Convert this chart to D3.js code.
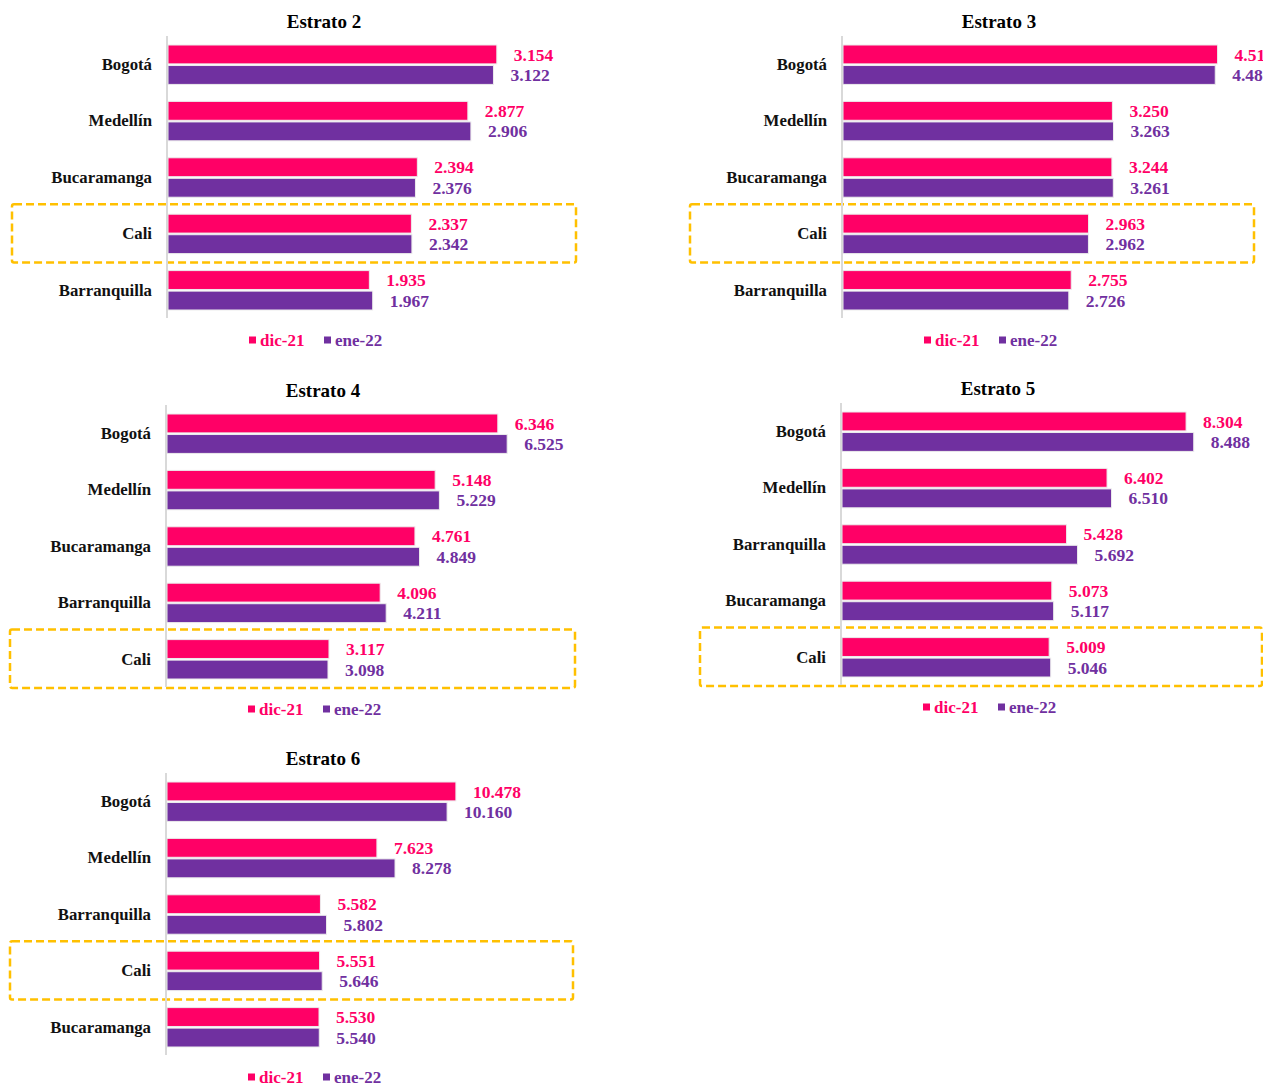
<!DOCTYPE html>
<html lang="es">
<head>
  <meta charset="UTF-8">
  <title>Estratos</title>
  <style>
    body { margin: 0; background: #fff; }
    svg { display: block; font-family: "Liberation Serif", "DejaVu Serif", serif; }
    .titulo { font-size: 19px; font-weight: bold; fill: #000; text-anchor: middle; }
    .ciudad { font-size: 16.8px; font-weight: bold; fill: #111; text-anchor: end; }
    .valor { font-size: 17.5px; font-weight: bold; }
    .leyenda { font-size: 17px; font-weight: bold; }
  </style>
</head>
<body>
  <svg id="grafico"></svg>

  <script src="https://d3js.org/d3.v7.min.js"></script>
  <script>
    const series = ['dic-21', 'ene-22'];
    const colores = ['#ff0066', '#7030a0'];
    const resaltado = 'Cali';

    const titulos = ['Estrato 2', 'Estrato 3', 'Estrato 4', 'Estrato 5', 'Estrato 6'];

    const ciudadesE2 = ['Bogotá', 'Medellín', 'Bucaramanga', 'Cali', 'Barranquilla'];
    const dicE2 = [3154, 2877, 2394, 2337, 1935];
    const eneE2 = [3122, 2906, 2376, 2342, 1967];

    const ciudadesE3 = ['Bogotá', 'Medellín', 'Bucaramanga', 'Cali', 'Barranquilla'];
    const dicE3 = [4514, 3250, 3244, 2963, 2755];
    const eneE3 = [4486, 3263, 3261, 2962, 2726];

    const ciudadesE4 = ['Bogotá', 'Medellín', 'Bucaramanga', 'Barranquilla', 'Cali'];
    const dicE4 = [6346, 5148, 4761, 4096, 3117];
    const eneE4 = [6525, 5229, 4849, 4211, 3098];

    const ciudadesE5 = ['Bogotá', 'Medellín', 'Barranquilla', 'Bucaramanga', 'Cali'];
    const dicE5 = [8304, 6402, 5428, 5073, 5009];
    const eneE5 = [8488, 6510, 5692, 5117, 5046];

    const ciudadesE6 = ['Bogotá', 'Medellín', 'Barranquilla', 'Cali', 'Bucaramanga'];
    const dicE6 = [10478, 7623, 5582, 5551, 5530];
    const eneE6 = [10160, 8278, 5802, 5646, 5540];

    const ejeMax = [3500, 5000, 7000, 9000, 12000];

    // posicion de cada panel en la pagina
    const layout = [
      { x0: 167, ancho: 366, top: 36, bottom: 318, caja: [12, 576] },
      { x0: 842, ancho: 416, top: 36, bottom: 318, caja: [690, 1254] },
      { x0: 166, ancho: 366, top: 405, bottom: 687, caja: [10, 575] },
      { x0: 841, ancho: 374, top: 403, bottom: 685, caja: [700, 1262] },
      { x0: 166, ancho: 332, top: 773, bottom: 1055, caja: [10, 573] }
    ];

    const datos = [
      [ciudadesE2, dicE2, eneE2],
      [ciudadesE3, dicE3, eneE3],
      [ciudadesE4, dicE4, eneE4],
      [ciudadesE5, dicE5, eneE5],
      [ciudadesE6, dicE6, eneE6]
    ];

    const formato = d3.formatLocale({ decimal: ',', thousands: '.', grouping: [3], currency: ['$', ''] }).format(',d');

    const svg = d3.select('#grafico').attr('width', 1263).attr('height', 1085);

    function panel(i) {
      const [ciudades, dic, ene] = datos[i];
      const L = layout[i];
      const g = svg.append('g');

      const x = d3.scaleLinear().domain([0, ejeMax[i]]).range([L.x0, L.x0 + L.ancho]);
      const y = d3.scaleBand().domain(ciudades).range([L.top, L.bottom]);
      const ys = d3.scaleBand().domain(series).range([9, y.bandwidth() - 8]).paddingInner(0.08);

      const filas = ciudades.map((c, k) => ({ ciudad: c, valores: [dic[k], ene[k]] }));

      // caja punteada alrededor de Cali
      g.append('rect')
        .attr('x', L.caja[0])
        .attr('y', y(resaltado) - 1)
        .attr('width', L.caja[1] - L.caja[0])
        .attr('height', y.bandwidth() + 2)
        .attr('rx', 2)
        .attr('fill', 'none')
        .attr('stroke', '#ffc000')
        .attr('stroke-width', 2.5)
        .attr('stroke-dasharray', '8 4');

      g.append('text')
        .classed('titulo', true)
        .attr('x', L.x0 + 157)
        .attr('y', L.top - 8)
        .text(titulos[i]);

      const fila = g.selectAll('.fila')
        .data(filas)
        .enter()
        .append('g')
        .attr('transform', d => `translate(0,${y(d.ciudad)})`);

      fila.append('text')
        .classed('ciudad', true)
        .attr('x', L.x0 - 15)
        .attr('y', y.bandwidth() / 2)
        .attr('dy', '0.35em')
        .text(d => d.ciudad);

      const barras = fila.selectAll('.barra')
        .data(d => d.valores.map((v, s) => ({ v, s })))
        .enter();

      barras.append('rect')
        .attr('x', x(0) + 1)
        .attr('y', d => ys(series[d.s]))
        .attr('width', d => x(d.v) - x(0) - 1)
        .attr('height', ys.bandwidth())
        .attr('fill', d => colores[d.s])
        .attr('stroke', '#ececec')
        .attr('stroke-width', 1);

      barras.append('text')
        .classed('valor', true)
        .attr('x', d => x(d.v) + 17)
        .attr('y', d => ys(series[d.s]) + ys.bandwidth() / 2)
        .attr('dy', '0.35em')
        .attr('fill', d => colores[d.s])
        .text(d => formato(d.v));

      // eje vertical
      g.append('line')
        .attr('x1', x(0)).attr('x2', x(0))
        .attr('y1', L.top).attr('y2', L.bottom)
        .attr('stroke', '#d9d9d9')
        .attr('stroke-width', 2);

      // leyenda
      const ly = L.bottom + 22;
      const pos = [82, 157];
      series.forEach((s, k) => {
        g.append('rect')
          .attr('x', L.x0 + pos[k])
          .attr('y', ly - 3.5)
          .attr('width', 7)
          .attr('height', 7)
          .attr('fill', colores[k]);
        g.append('text')
          .classed('leyenda', true)
          .attr('x', L.x0 + pos[k] + 11)
          .attr('y', ly)
          .attr('dy', '0.35em')
          .attr('fill', colores[k])
          .text(s);
      });
    }

    titulos.forEach((t, i) => panel(i));
  </script>
</body>
</html>
